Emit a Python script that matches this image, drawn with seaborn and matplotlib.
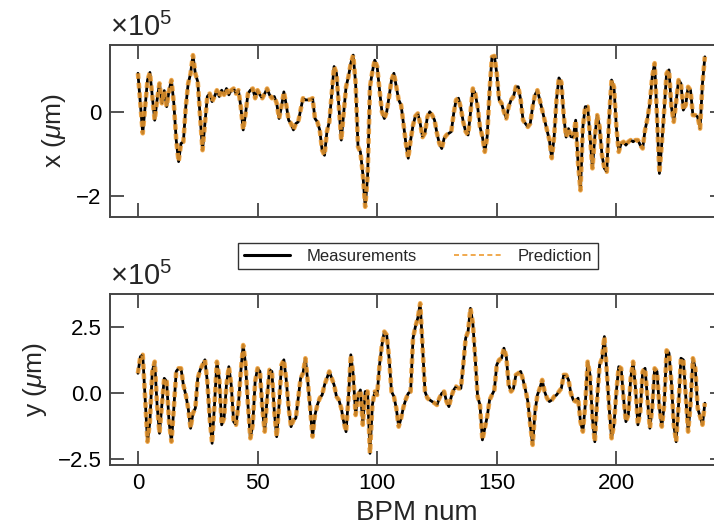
import numpy as np
import pandas as pd
import matplotlib
matplotlib.use("Agg")
import matplotlib.pyplot as plt
import seaborn as sns
from matplotlib.lines import Line2D
from matplotlib.ticker import FuncFormatter

# BPM index
bpm = list(range(238))

# horizontal orbit x (units of 1e5 um)
x_meas = [
    0.91, 0.2, -0.51, 0.12, 0.75, 0.93, 0.36, -0.2, 0.28, 0.67,
    0.2, 0.5, 0.12, 0.5, 0.75, 0.2, -0.67, -1.18, -0.75, -0.71,
    0.12, 0.67, 0.9, 1.34, 0.9, 0.71, -0.12, -0.91, -0.28, 0.36,
    0.43, 0.24, 0.36, 0.51, 0.36, 0.51, 0.4, 0.55, 0.4, 0.51,
    0.55, 0.43, 0.51, 0.12, -0.43, -0.04, 0.43, 0.51, 0.55, 0.32,
    0.51, 0.4, 0.32, 0.43, 0.55, 0.4, 0.32, 0.36, 0.2, -0.16,
    0.12, 0.47, 0.16, -0.2, -0.28, -0.43, -0.28, -0.24, 0.04, 0.32,
    0.28, 0.28, 0.29, 0.32, -0.16, -0.24, -0.43, -0.91, -1.03, -0.47,
    -0.24, 0.43, 1.07, 0.91, 0.12, -0.67, -0.04, 0.59, 0.83, 1.15,
    1.34, 0.67, -0.83, -0.95, -1.46, -2.25, -1.54, 0.59, 0.95, 1.22,
    1.07, 0.51, 0.0, -0.16, 0.0, 0.36, 0.75, 0.91, 0.59, 0.28,
    0.16, -0.28, -0.75, -1.1, -0.67, -0.32, -0.1, -0.04, -0.28, -0.6,
    -0.5, -0.12, 0.0, -0.08, -0.2, -0.51, -0.75, -0.87, -0.63, -0.55,
    -0.51, -0.47, -0.04, 0.28, 0.32, 0.08, -0.24, -0.47, -0.55, -0.04,
    0.55, 0.43, 0.12, -0.36, -0.59, -0.95, -0.59, 0.51, 1.3, 1.32,
    0.91, 0.28, 0.2, 0.0, -0.16, 0.12, 0.28, 0.36, 0.59, 0.59,
    0.28, -0.2, -0.28, -0.36, -0.28, 0.12, 0.4, 0.51, 0.28, 0.04,
    -0.2, -0.43, -0.67, -1.1, -0.59, 0.3, 0.8, 0.7, -0.1, -0.6,
    -0.4, -0.59, -0.6, -0.2, -1.22, -1.86, -0.36, 0.12, 0.12, -0.59,
    -1.34, -0.59, -0.08, -0.36, -1.03, -1.34, -1.42, -0.12, 0.75, 0.59,
    -0.36, -0.95, -0.75, -0.71, -0.79, -0.71, -0.67, -0.71, -0.67, -0.67,
    -0.79, -0.87, -0.43, -0.16, 0.2, 0.83, 1.15, -0.12, -1.46, -0.75,
    0.04, 0.91, 0.99, 0.12, -0.24, 0.24, 0.75, 0.67, 0.04, 0.16,
    0.59, 0.51, -0.08, -0.08, -0.12, -0.4, 0.67, 1.3,
]

# vertical orbit y (units of 1e5 um)
y_meas = [
    0.73, 1.36, 1.43, -0.21, -1.86, -1.1, 0.8, 1.17, -0.47, -1.54,
    -0.47, 0.54, 0.42, -1.1, -1.86, -0.59, 0.8, 0.92, 0.92, 0.29,
    -0.09, -0.59, -1.35, -0.78, -0.59, 0.54, 0.86, 1.05, 1.24, 0.42,
    -0.97, -1.92, -0.47, 1.17, 0.54, -1.22, -0.97, 0.29, 0.98, 0.29,
    -1.1, -1.22, -0.47, 0.8, 1.8, 1.05, -0.47, -1.73, -1.22, 0.42,
    0.92, 0.8, -0.59, -1.48, -0.21, 0.86, 0.8, -0.72, -1.67, -0.47,
    1.05, 1.24, 0.48, -0.59, -1.29, -1.04, -0.97, -0.21, 0.54, 0.73,
    1.3, 0.42, -0.59, -1.67, -0.85, -0.47, -0.21, -0.09, 0.29, 0.54,
    0.8, 0.54, 0.29, -0.15, -0.28, -0.59, -1.1, -1.48, -0.21, 1.43,
    0.67, -0.85, -0.09, 0.1, -1.22, 0.04, 0.04, -2.3, -0.47, 0.04,
    -0.09, 1.05, 1.8, 2.31, 2.18, 1.3, 0.04, -0.15, -0.59, -1.29,
    -0.97, -0.55, -0.25, -0.03, 0.04, 2.06, 2.5, 2.82, 3.38, 1.68,
    0.04, -0.21, -0.28, -0.34, -0.4, -0.47, -0.21, -0.03, 0.04, -0.34,
    -0.53, -0.15, 0.1, 0.23, 0.16, 0.16, 1.05, 2.06, 2.31, 3.19,
    2.63, 1.3, -0.15, -0.47, -1.79, -1.35, -0.91, -0.28, -0.09, 0.1,
    1.05, 1.24, 1.3, 1.68, 1.36, 0.29, 0.04, 0.16, 0.67, 0.73,
    0.8, 0.48, 0.1, -0.34, -1.22, -1.98, -0.72, -0.09, 0.16, 0.48,
    0.04, -0.21, -0.34, -0.28, -0.15, -0.09, 0.04, 0.16, 0.67, 0.67,
    0.48, -0.03, -0.28, -0.34, -0.21, -1.1, -1.48, -0.47, 1.17, 0.67,
    -0.97, -1.86, -0.21, 1.05, 1.3, 2.12, 0.8, -0.59, -1.73, -1.22,
    0.04, 0.98, 0.92, -0.21, -1.1, -0.85, 0.54, 1.17, 0.16, -1.22,
    -0.72, 0.8, 0.92, -0.21, -1.35, -0.59, 0.92, 0.8, -0.59, -1.29,
    -0.47, 1.6, 1.5, 0.42, -1.22, -1.86, -0.47, 1.3, 1.24, -0.09,
    -1.48, -0.47, 1.3, 0.92, -0.59, -0.91, -1.22, -0.4,
]

# prediction overlaps the measurements within line width
x_pred = list(x_meas)
y_pred = list(y_meas)

x_ticks = [0, 50, 100, 150, 200]
x_yticks = [-2, 0]
y_yticks = [-2.5, 0.0, 2.5]

scale = 1e5
df = pd.DataFrame({
    "BPM": bpm,
    "x_meas": np.array(x_meas) * scale,
    "x_pred": np.array(x_pred) * scale,
    "y_meas": np.array(y_meas) * scale,
    "y_pred": np.array(y_pred) * scale,
})

sns.set_style("white")
plt.rcParams["font.family"] = ["Liberation Sans", "DejaVu Sans"]
plt.rcParams["mathtext.fontset"] = "custom"
plt.rcParams["mathtext.it"] = "Liberation Sans:italic"
plt.rcParams["mathtext.rm"] = "Liberation Sans"

fig = plt.figure(figsize=(7.14, 5.26), dpi=100)
ax1 = fig.add_axes([0.154, 0.5875, 0.86, 0.327])
ax2 = fig.add_axes([0.154, 0.116, 0.86, 0.325])

meas_color = "black"
pred_color = "#EE9B30"
spine_color = "#444444"


def make_fmt(dec):
    def f(v, pos):
        s = ("%." + str(dec) + "f") % (v / scale)
        return s.replace("-", "\u2212")
    return FuncFormatter(f)


for ax, mcol, pcol, yl, yt, ylim, dec in [
    (ax1, "x_meas", "x_pred", "x ($\\mu$m)", x_yticks, (-2.49, 1.58), 0),
    (ax2, "y_meas", "y_pred", "y ($\\mu$m)", y_yticks, (-2.74, 3.73), 1),
]:
    sns.lineplot(data=df, x="BPM", y=mcol, ax=ax, color=meas_color, lw=2.0,
                 label="Measurements", legend=False)
    sns.lineplot(data=df, x="BPM", y=pcol, ax=ax, color=pred_color, lw=3.3,
                 alpha=0.85, linestyle=(0, (1.2, 0.9)), label="Prediction",
                 legend=False)
    ax.set_xlim(-11.7, 245)
    ax.set_ylim(ylim[0] * scale, ylim[1] * scale)
    ax.set_xticks(x_ticks)
    ax.set_yticks([v * scale for v in yt])
    ax.yaxis.set_major_formatter(make_fmt(dec))
    ax.set_ylabel(yl, fontsize=19, labelpad=6)
    ax.tick_params(direction="in", length=10, width=1.3, colors=spine_color,
                   labelcolor="black", labelsize=16, top=True, right=True,
                   bottom=True, left=True, pad=6)
    for s in ax.spines.values():
        s.set_color(spine_color)
        s.set_linewidth(1.4)
    # multiplier label of the y axis
    ax.text(0.0, 1.02, "\u00d710$^{5}$", transform=ax.transAxes,
            fontsize=21, ha="left", va="bottom")

ax1.set_xlabel("")
ax1.tick_params(labelbottom=False)
ax2.set_xlabel("BPM num", fontsize=20, labelpad=4)

handles = [Line2D([], [], color="black", lw=2.2),
           Line2D([], [], color=pred_color, lw=1.2, linestyle=(0, (3, 2)))]
leg = fig.legend(handles, ["Measurements", "Prediction"], ncol=2,
                 loc="center", bbox_to_anchor=(0.585, 0.513), fontsize=12,
                 frameon=True, fancybox=False, edgecolor="black",
                 columnspacing=2.2, handlelength=2.8, handletextpad=1.0,
                 borderpad=0.35)
leg.get_frame().set_linewidth(1.0)

fig.savefig("out.png", dpi=100)
